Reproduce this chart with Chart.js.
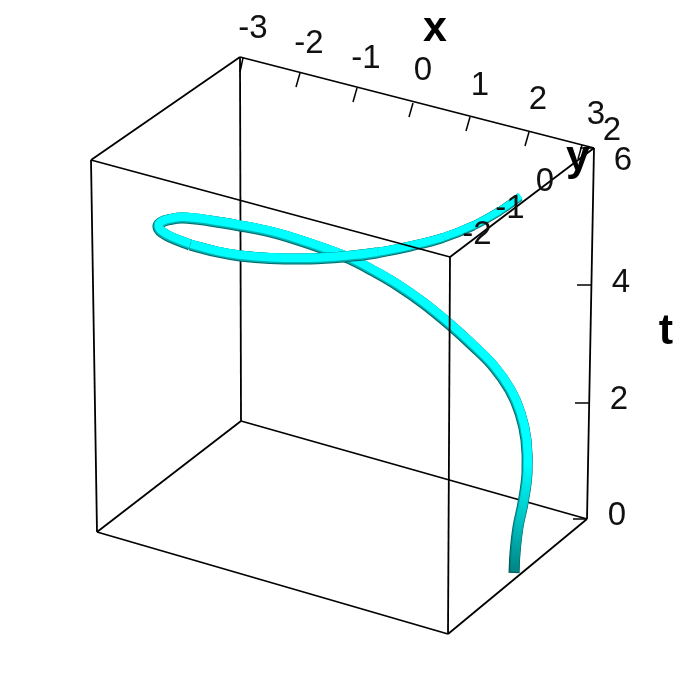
<!DOCTYPE html>
<html>
<head>
<meta charset="utf-8">
<title>curve</title>
<script src="https://cdn.jsdelivr.net/npm/chart.js@4"></script>
<style>
html, body { margin: 0; padding: 0; background: #fff; }
canvas { display: block; }
</style>
</head>
<body>
<canvas id="myChart" width="685" height="685"></canvas>
<script>
// values, in picture units
const riseX = [514, 515, 518, 523, 527, 526, 520, 510, 493, 473, 450, 423, 397, 373, 350, 327, 293, 270, 240, 210, 183, 170, 161, 158, 162, 172, 190];
const riseY = [573, 553, 527, 503, 473, 440, 413, 390, 366, 346, 325, 303, 285, 271, 259, 250, 238.5, 232, 226, 221, 218, 219.5, 222.5, 227, 232.5, 238, 245];
const loopX = [190, 217, 240, 270, 310, 343, 377, 410, 443, 473, 500, 520];
const loopY = [245, 252, 256, 258.5, 259, 257, 253, 246.5, 238, 226, 211, 197];

const cornerNames = ['A', 'B', 'C', 'D', 'E', 'F', 'G', 'H'];
const cornerX = [240, 594, 450, 91, 241, 587, 448, 97];
const cornerY = [57, 148, 257, 160, 421, 519, 634, 532];
const backEdges = [['A', 'B'], ['A', 'D'], ['A', 'E'], ['B', 'F'], ['E', 'F'], ['E', 'H'], ['F', 'G'], ['G', 'H'], ['D', 'H']];
const frontEdges = [['D', 'C'], ['B', 'C'], ['C', 'G']];

const xTickLabels = ['-3', '-2', '-1', '0', '1', '2', '3'];
const xTickLabelX = [253, 309, 366, 423, 480, 538, 596];
const xTickLabelY = [29, 44, 59, 71, 86, 100, 115];
const yTickLabels = ['2', '0', '-1', '-2'];
const yTickLabelX = [612, 545, 510, 477];
const yTickLabelY = [131, 182, 209, 235];
const tTickLabels = ['0', '2', '4', '6'];
const tTickLabelX = [617, 619, 621, 623];
const tTickLabelY = [516, 400, 283, 161];

// tick marks along the top x edge and the t edge
const xTickStartX = [243, 300, 357, 413, 470, 529, 582];
const xTickStartY = [58, 73, 88, 103, 117, 132, 145];
const xTickEndX = [240, 296, 353, 409, 466, 525, 578];
const xTickEndY = [72, 87, 102, 117, 131, 146, 159];
const tTickStartX = [587, 590, 592, 594];
const tTickEndX = [573, 575, 577, 580];
const tTickY = [519, 403, 285, 148];

const canvas = document.getElementById('myChart');
const g = canvas.getContext('2d');

function corner(name) {
  const i = cornerNames.indexOf(name);
  return { x: cornerX[i], y: cornerY[i] };
}
function pts(xs, ys) {
  return xs.map((v, i) => ({ x: v, y: ys[i] }));
}
function line(points, color, width) {
  return { data: points, borderColor: color, borderWidth: width, pointRadius: 0, tension: 0, showLine: true, fill: false };
}
// fades from the dark foot of the tube up to the plain colour
function foot(low, mid, top) {
  const grad = g.createLinearGradient(0, 576, 0, 465);
  grad.addColorStop(0, low);
  grad.addColorStop(0.5, mid);
  grad.addColorStop(1, top);
  return grad;
}

// tube = three stacked strokes, brightest one nudged to the lit side
function tube(points, widthAt, colors) {
  const layers = [
    { k: 1, nudge: [0, 0] },
    { k: 0.9, nudge: [0.3, -0.5] },
    { k: 0.76, nudge: [0.7, -1.2] }
  ];
  return layers.map((l, n) => ({
    data: points,
    showLine: true,
    fill: false,
    pointRadius: 0,
    tension: 0.4,
    borderColor: colors[n],
    borderWidth: widthAt(0) * l.k,
    borderCapStyle: 'butt',
    borderJoinStyle: 'round',
    nudge: l.nudge,
    segment: {
      borderWidth: c => widthAt(c.p0DataIndex) * l.k
    }
  }));
}

const plainColors = ['#006a6a', '#00b4b4', '#00ffff'];
const footColors = [
  foot('#004c4c', '#006666', '#006a6a'),
  foot('#006f6f', '#009c9c', '#00b4b4'),
  foot('#008080', '#00c4c4', '#00ffff')
];

const datasets = [];
backEdges.forEach(e => datasets.push(line([corner(e[0]), corner(e[1])], '#000', 1.8)));
xTickStartX.forEach((v, i) => datasets.push(line([{ x: v, y: xTickStartY[i] }, { x: xTickEndX[i], y: xTickEndY[i] }], '#000', 1.5)));
tTickStartX.forEach((v, i) => datasets.push(line([{ x: v, y: tTickY[i] }, { x: tTickEndX[i], y: tTickY[i] }], '#000', 1.5)));

tube(pts(riseX, riseY), () => 11, footColors).forEach(d => datasets.push(d));
tube(pts(loopX, loopY), i => i < 6 ? 11 : 11 - (i - 5) * 0.5, plainColors).forEach(d => datasets.push(d));

frontEdges.forEach(e => datasets.push(line([corner(e[0]), corner(e[1])], '#000', 1.8)));
datasets.forEach((d, i) => { d.order = datasets.length - i; });

const nudgePlugin = {
  id: 'nudge',
  beforeDatasetDraw(chart, args) {
    const n = chart.data.datasets[args.index].nudge;
    if (!n) return;
    chart.ctx.save();
    chart.ctx.translate(n[0], n[1]);
  },
  afterDatasetDraw(chart, args) {
    if (chart.data.datasets[args.index].nudge) chart.ctx.restore();
  }
};

const labelPlugin = {
  id: 'boxLabels',
  afterDraw(chart) {
    const ctx = chart.ctx;
    const sx = chart.scales.x, sy = chart.scales.y;
    const put = (txt, x, y) => ctx.fillText(txt, sx.getPixelForValue(x), sy.getPixelForValue(y));
    ctx.save();
    ctx.fillStyle = '#111';
    ctx.textAlign = 'center';
    ctx.textBaseline = 'middle';
    ctx.font = '33px "Liberation Sans"';
    xTickLabels.forEach((t, i) => put(t, xTickLabelX[i], xTickLabelY[i]));
    yTickLabels.forEach((t, i) => put(t, yTickLabelX[i], yTickLabelY[i]));
    tTickLabels.forEach((t, i) => put(t, tTickLabelX[i], tTickLabelY[i]));
    ctx.fillStyle = '#000';
    ctx.font = 'bold 43px "Liberation Sans"';
    put('x', 435, 29);
    put('y', 578, 158);
    put('t', 666, 332);
    ctx.restore();
  }
};

new Chart(canvas, {
  type: 'scatter',
  data: { datasets: datasets },
  plugins: [nudgePlugin, labelPlugin],
  options: {
    responsive: false,
    animation: false,
    layout: { padding: 0 },
    plugins: { legend: { display: false }, tooltip: { enabled: false } },
    scales: {
      x: { type: 'linear', min: 0, max: 685, display: false },
      y: { type: 'linear', min: 0, max: 685, reverse: true, display: false }
    }
  }
});
</script>
</body>
</html>
